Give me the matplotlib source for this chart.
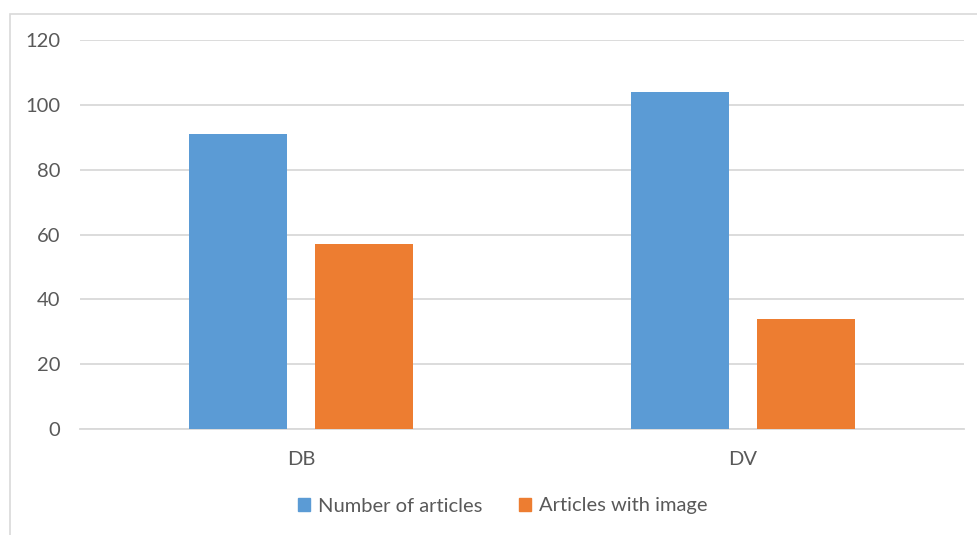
import matplotlib
matplotlib.use("Agg")
import matplotlib.pyplot as plt
import matplotlib.patches as mpatches
import numpy as np

categories = ["DB", "DV"]
series_names = ["Number of articles", "Articles with image"]
number_of_articles = [91, 104]
articles_with_image = [57, 34]
y_ticks = [0, 20, 40, 60, 80, 100, 120]

colors = ["#5B9BD5", "#ED7D31"]
text_color = "#595959"
grid_color = "#D9D9D9"

plt.rcParams["font.family"] = ["Lato", "DejaVu Sans"]

fig = plt.figure(figsize=(9.78, 5.35), dpi=100)
ax = fig.add_axes([80 / 978, 1 - 429 / 535, (964 - 80) / 978, (429 - 40) / 535])

# Outer chart frame
frame = mpatches.Rectangle((10 / 978, -0.2), 1.2, 1 - 14 / 535 + 0.2,
                           transform=fig.transFigure, fill=False,
                           edgecolor=grid_color, linewidth=1.2, zorder=0)
fig.patches.append(frame)

x = np.arange(len(categories))
width = 0.222
offset = 0.142
ax.bar(x - offset, number_of_articles, width, color=colors[0], label=series_names[0], zorder=3)
ax.bar(x + offset, articles_with_image, width, color=colors[1], label=series_names[1], zorder=3)

ax.set_xlim(-0.5, 1.5)
ax.set_ylim(0, 120)
ax.set_yticks(y_ticks)
ax.set_xticks(x)
ax.set_xticklabels(categories)
ax.yaxis.grid(True, color=grid_color, linewidth=1.3)
ax.set_axisbelow(True)
for side in ["top", "right", "left"]:
    ax.spines[side].set_visible(False)
ax.spines["bottom"].set_color(grid_color)
ax.spines["bottom"].set_linewidth(1.3)
ax.tick_params(axis="both", length=0, colors=text_color, labelsize=14.5)
ax.tick_params(axis="y", pad=14)
ax.tick_params(axis="x", pad=16)

handles = [mpatches.Patch(color=c) for c in colors]
fig.legend(handles, series_names, loc="center", bbox_to_anchor=(503 / 978, 1 - 506 / 535),
           ncol=2, frameon=False, fontsize=14.5, labelcolor=text_color,
           handlelength=0.6, handleheight=0.6, handletextpad=0.4, columnspacing=1.8)

fig.savefig("out.png", dpi=100, facecolor="white")
